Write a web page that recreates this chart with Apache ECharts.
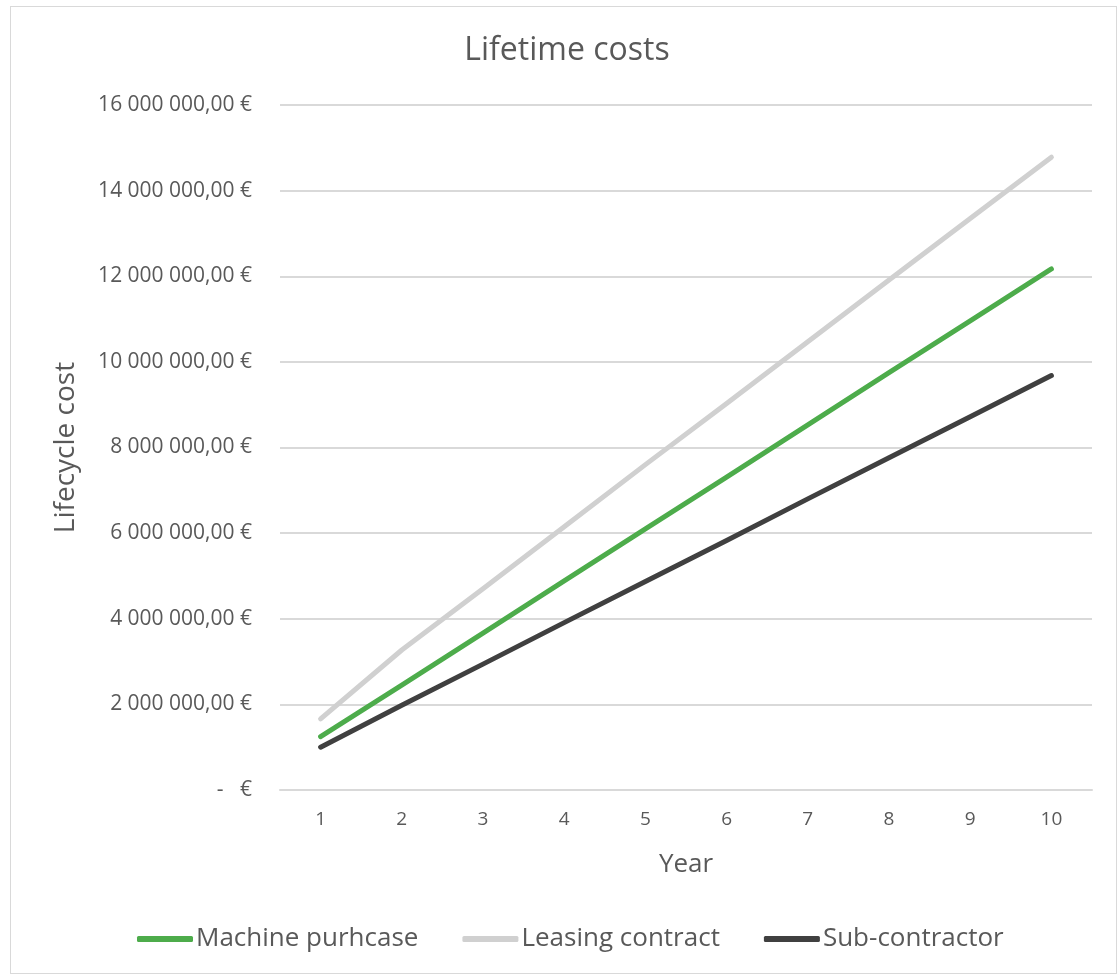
<!DOCTYPE html>
<html>
<head>
<meta charset="utf-8">
<script src="https://cdn.jsdelivr.net/npm/echarts@6/dist/echarts.min.js"></script>
<style>
  html, body { margin: 0; padding: 0; background: #fff; }
  #frame { position: absolute; left: 10px; top: 6px; width: 1107px; height: 968px; border: 1px solid #d9d9d9; box-sizing: border-box; }
  #chart { position: absolute; left: 0; top: 0; width: 1120px; height: 976px; }
</style>
</head>
<body>
<div id="frame"></div>
<div id="chart"></div>
<script>
// Years of operation
const years = ['1', '2', '3', '4', '5', '6', '7', '8', '9', '10'];

// Cumulative lifecycle cost per option (EUR)
const machinePurchase = [1245000, 2450000, 3665000, 4885000, 6100000, 7310000, 8530000, 9750000, 10960000, 12170000];
const leasingContract = [1660000, 3270000, 4700000, 6150000, 7600000, 9030000, 10470000, 11910000, 13350000, 14780000];
const subContractor  = [1000000, 1980000, 2940000, 3910000, 4870000, 5830000, 6800000, 7760000, 8720000, 9680000];

const seriesNames = ['Machine purhcase', 'Leasing contract', 'Sub-contractor'];
const seriesColors = ['#4dac4b', '#d0d0d0', '#404040'];

const textColor = '#595959';
const fontFamily = '"Open Sans", sans-serif';

function euro(v) {
  if (v === 0) return '-   €';
  const s = Math.round(v).toString().replace(/\B(?=(\d{3})+(?!\d))/g, ' ');
  return s + ',00 €';
}

const chart = echarts.init(document.getElementById('chart'), null, { renderer: 'canvas' });

const dataSets = [machinePurchase, leasingContract, subContractor];

chart.setOption({
  animation: false,
  backgroundColor: 'transparent',
  textStyle: { fontFamily: fontFamily },
  title: {
    text: 'Lifetime costs',
    left: 562,
    textAlign: 'center',
    top: 30,
    textStyle: { fontSize: 32, fontWeight: 'normal', color: textColor, fontFamily: fontFamily }
  },
  grid: { left: 280, right: 28, top: 105, bottom: 186 },
  legend: {
    data: seriesNames,
    bottom: 19,
    left: 132,
    itemWidth: 56,
    itemHeight: 6,
    itemGap: 44,
    icon: 'roundRect',
    textStyle: { fontSize: 26, color: textColor, fontFamily: fontFamily, padding: [0, 0, 0, -2] }
  },
  xAxis: {
    type: 'category',
    data: years,
    boundaryGap: true,
    name: 'Year',
    nameLocation: 'middle',
    nameGap: 62,
    nameTextStyle: { fontSize: 26, color: textColor },
    axisLine: { show: true, lineStyle: { color: '#d9d9d9', width: 2 } },
    axisTick: { show: false },
    axisLabel: { fontSize: 19, color: textColor, margin: 20 }
  },
  yAxis: {
    type: 'value',
    min: 0,
    max: 16000000,
    interval: 2000000,
    name: 'Lifecycle cost',
    nameLocation: 'middle',
    nameGap: 200,
    nameTextStyle: { fontSize: 28, color: textColor },
    axisLine: { show: false },
    axisTick: { show: false },
    splitLine: { lineStyle: { color: '#d9d9d9', width: 2 } },
    axisLabel: { fontSize: 21, color: textColor, margin: 28, formatter: euro }
  },
  series: seriesNames.map((name, i) => ({
    name: name,
    type: 'line',
    data: dataSets[i],
    symbol: 'none',
    smooth: false,
    color: seriesColors[i],
    lineStyle: { width: 5, color: seriesColors[i], cap: 'round', join: 'round' }
  }))
});
</script>
</body>
</html>
